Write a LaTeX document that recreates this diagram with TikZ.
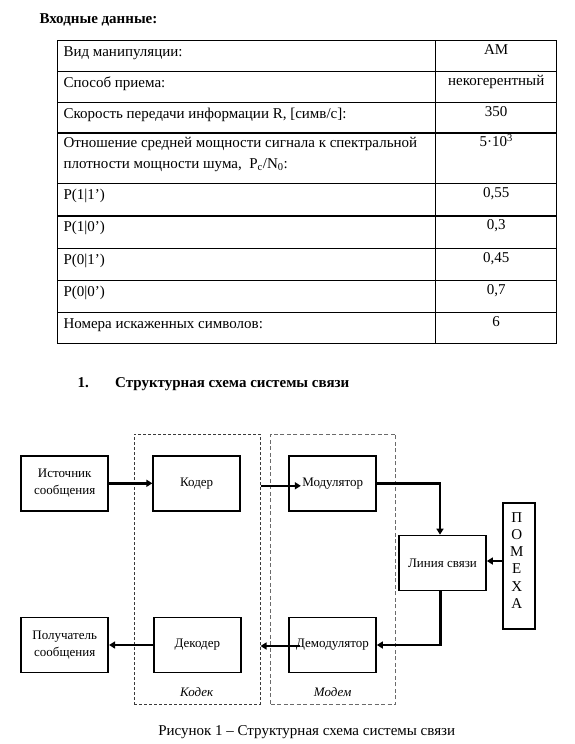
\documentclass[tikz,border=0pt]{standalone}
\usepackage{fontspec}
\setmainfont{Liberation Serif}
\usetikzlibrary{arrows.meta,calc,positioning}
\definecolor{SheetInk}{HTML}{000000}
\definecolor{CodecDash}{HTML}{3A3A3A}
\definecolor{ModemDash}{HTML}{6A6A6A}
\tikzset{
  every node/.style={font=\fontsize{15}{17}\selectfont, text=SheetInk, inner sep=0pt},
  rowtext/.style={anchor=base west},
  rowvalue/.style={anchor=base},
  heading/.style={anchor=base west, font=\fontsize{15}{17}\selectfont\bfseries},
  grid/.style={draw=SheetInk, line width=1.2pt},
  block/.style={draw=SheetInk, line width=1.7pt, minimum width=87pt, minimum height=55pt,
    align=center, font=\fontsize{13}{17.5}\selectfont},
  group/.style={draw=CodecDash, line width=1pt, dash pattern=on 3pt off 2pt},
  signal/.style={-{Triangle[length=6pt,width=7pt]}, draw=SheetInk, line width=2.6pt},
}
\begin{document}
\begin{tikzpicture}[x=1pt,y=-1pt]
  \useasboundingbox (0,0) rectangle (575,744);
  % Input data table
  \node[heading] (title) at (39.3,23.3) {Входные данные:};
  \foreach \y in {40.5,71.5,102.5,133,183.5,216,248.5,280.5,312.5,343.5}
    \draw[grid] (57.3,\y) -- (556.7,\y);
  \foreach \x in {57.3,435.7,556.7} \draw[grid] (\x,40.5) -- (\x,343.5);
  \node[rowtext] (r1) at (63.3,56) {Вид манипуляции:};
  \node[rowvalue] (v1) at (496.2,54.5) {АМ};
  \node[rowtext] (r2) at (63.3,87) {Способ приема:};
  \node[rowvalue] (v2) at (496.2,85.5) {некогерентный};
  \node[rowtext] (r3) at (63.3,118) {Скорость передачи информации R, [симв/с]:};
  \node[rowvalue] (v3) at (496.2,116.5) {350};
  \node[rowtext] (r4a) at (63.3,147.5) {Отношение средней мощности сигнала к спектральной};
  \node[rowtext] (r4b) at (63.3,168) {плотности мощности шума,\ \ P\textsubscript{с}/N\textsubscript{0}:};
  \node[rowvalue] (v4) at (496.2,146.5) {5·10\textsuperscript{3}};
  \node[rowtext] (r5) at (63.3,199) {P(1|1’)};
  \node[rowvalue] (v5) at (496.2,197) {0,55};
  \node[rowtext] (r6) at (63.3,231.5) {P(1|0’)};
  \node[rowvalue] (v6) at (496.2,229.5) {0,3};
  \node[rowtext] (r7) at (63.3,264) {P(0|1’)};
  \node[rowvalue] (v7) at (496.2,262) {0,45};
  \node[rowtext] (r8) at (63.3,296) {P(0|0’)};
  \node[rowvalue] (v8) at (496.2,294) {0,7};
  \node[rowtext] (r9) at (63.3,328) {Номера искаженных символов:};
  \node[rowvalue] (v9) at (496.2,326) {6};
  % Section heading
  \node[heading] (secnum) at (77.3,387.7) {1.};
  \node[heading] (sectitle) at (115,387.7) {Структурная схема системы связи};
  % Codec and modem frames
  \node[group, minimum width=126pt, minimum height=270pt] (codec) at (197,569) {};
  \node[group, draw=ModemDash, dash pattern=on 4pt off 2.5pt, minimum width=125.3pt,
    minimum height=270pt] (modem) at (333.3,569) {};
  \node[anchor=base, font=\fontsize{13}{15}\selectfont\itshape] (codeclabel) at (196.7,696.7) {Кодек};
  \node[anchor=base, font=\fontsize{13}{15}\selectfont\itshape] (modemlabel) at (332.7,696.7) {Модем};
  % Blocks
  \node[block] (source) at (64.7,483.3) {Источник\\сообщения};
  \node[block] (coder) at (196.7,483.3) {Кодер};
  \node[block] (modulator) at (332.7,483.3) {Модулятор};
  \node[block] (channel) at (442.5,563) {Линия связи};
  \node[block, minimum width=32pt, minimum height=126.3pt] (noise) at (519.3,565.8) {};
  \node[align=center, font=\fontsize{15}{17.1}\selectfont] (noisetext) at (516.7,560.5)
    {П\\О\\М\\Е\\Х\\А};
  \node[block] (demodulator) at (332.5,645) {Демодулятор};
  \node[block] (decoder) at (197.3,645) {Декодер};
  \node[block] (sink) at (64.7,645) {Получатель\\сообщения};
  \coordinate (modin) at ($(modulator.west)+(12.5,2.5)$);
  \coordinate (demodout) at ($(demodulator.west)+(12,1)$);
  % Signal path
  \draw[signal] (source.east) -- (coder.west);
  \draw[signal] (codec.east |- modin) -- (modin);
  \draw[signal] (modulator.east) -| (channel.north -| 440,0);
  \draw[signal] (noise.west |- 0,561) -- (channel.east |- 0,561);
  \draw[signal] (channel.south -| 440.7,0) |- (demodulator.east);
  \draw[signal] (demodout) -- (codec.east |- demodout);
  \draw[signal] (decoder.west) -- (sink.east);
  % Caption
  \node[anchor=base] (caption) at (306.7,735) {Рисунок 1 – Структурная схема системы связи};
\end{tikzpicture}
\end{document}
